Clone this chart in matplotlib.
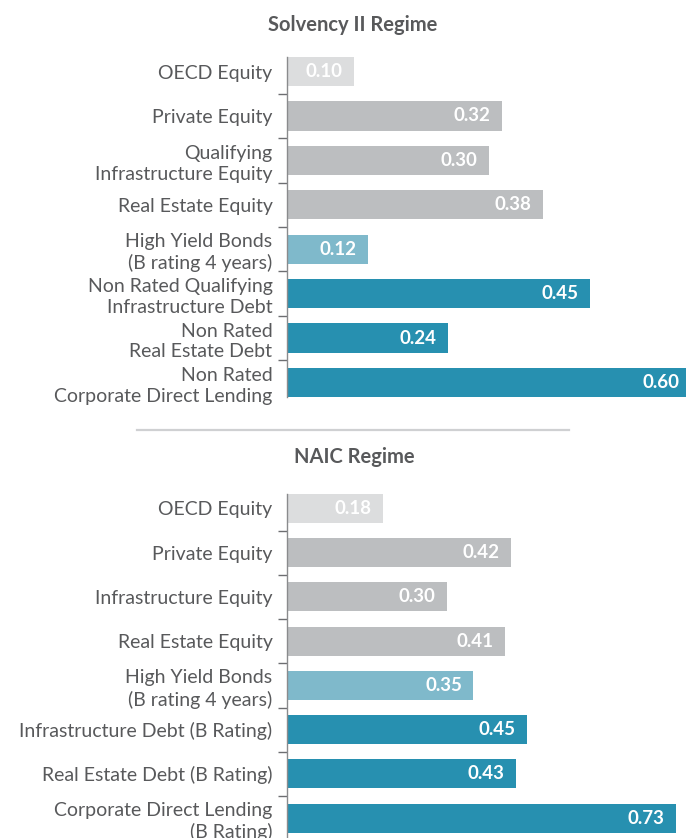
import matplotlib
matplotlib.use("Agg")
import matplotlib.pyplot as plt
from matplotlib.lines import Line2D

plt.rcParams['font.family'] = ['Lato', 'DejaVu Sans']

# ---- data ----
solv_title = "Solvency II Regime"
solv_labels = ["OECD Equity", "Private Equity", "Qualifying\nInfrastructure Equity",
               "Real Estate Equity", "High Yield Bonds\n(B rating 4 years)",
               "Non Rated Qualifying\nInfrastructure Debt", "Non Rated\nReal Estate Debt",
               "Non Rated\nCorporate Direct Lending"]
solv_values = [0.10, 0.32, 0.30, 0.38, 0.12, 0.45, 0.24, 0.60]

naic_title = "NAIC Regime"
naic_labels = ["OECD Equity", "Private Equity", "Infrastructure Equity",
               "Real Estate Equity", "High Yield Bonds\n(B rating 4 years)",
               "Infrastructure Debt (B Rating)", "Real Estate Debt (B Rating)",
               "Corporate Direct Lending\n(B Rating)"]
naic_values = [0.18, 0.42, 0.30, 0.41, 0.35, 0.45, 0.43, 0.73]

# color group per bar: 0 = public equity, 1 = private equity, 2 = HY bonds, 3 = private debt
groups = [0, 1, 1, 1, 2, 3, 3, 3]
group_colors = ["#DCDDDE", "#BCBEC0", "#7FB9CB", "#2790B0"]

TEXT = "#58595B"
W, H = 686, 838
fig = plt.figure(figsize=(W / 100, H / 100), dpi=100)


def draw(ax, labels, values, xmax, ylim):
    n = len(values)
    ys = list(range(n))
    cols = [group_colors[g] for g in groups]
    ax.barh(ys, values, height=0.655, color=cols, edgecolor="none")
    ax.set_xlim(0, xmax)
    ax.set_ylim(*ylim)
    for sp in ["top", "right", "bottom"]:
        ax.spines[sp].set_visible(False)
    ax.spines["left"].set_color("#8A8B8D")
    ax.spines["left"].set_linewidth(1.0)
    ax.set_xticks([])
    ax.set_yticks(ys)
    ax.set_yticklabels(labels, fontsize=14, color=TEXT, linespacing=1.28)
    ax.tick_params(axis="y", which="major", length=0, pad=10.5)
    ax.set_yticks([i + 0.5 for i in range(n - 1)], minor=True)
    ax.tick_params(axis="y", which="minor", length=6.5, width=1.0, color="#6D6E71", direction="out")
    for y, v in zip(ys, values):
        ax.annotate(f"{v:.2f}", xy=(v, y), xytext=(-8.3, 0), textcoords="offset points",
                    ha="right", va="center", color="white", fontsize=13.5,
                    fontweight="bold", annotation_clip=False)
    ax.set_facecolor("none")


left = 287 / W
# top chart: spine from y=57 to y=397
ax1 = fig.add_axes([left, 1 - 397 / H, 1 - left, (397 - 57) / H])
draw(ax1, solv_labels, solv_values, 0.593, (7.3275, -0.3275))

# bottom chart: spine from y=494 to figure bottom
ax2 = fig.add_axes([left, 0, 1 - left, (H - 494) / H])
draw(ax2, naic_labels, naic_values, 0.749, (7.45, -0.3275))

fig.text(353 / W, 1 - 25 / H, solv_title, ha="center", va="center",
         fontsize=14.5, fontweight="bold", color=TEXT)
fig.text(354 / W, 1 - 457 / H, naic_title, ha="center", va="center",
         fontsize=14.5, fontweight="bold", color=TEXT)

fig.add_artist(Line2D([137 / W, 569 / W], [1 - 430 / H, 1 - 430 / H],
                      transform=fig.transFigure, color="#CFD0D2", linewidth=1.6))

fig.savefig("out.png", dpi=100, facecolor="white")
